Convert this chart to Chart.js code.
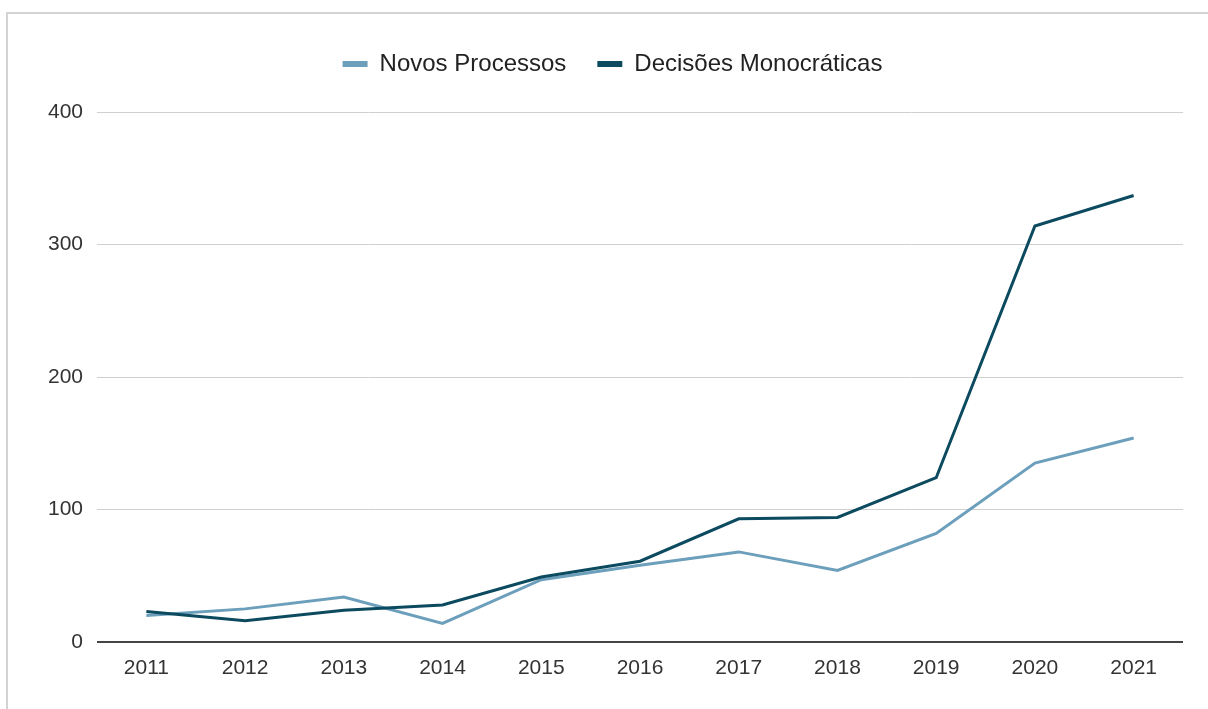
<!DOCTYPE html>
<html lang="pt">
<head>
    <meta charset="UTF-8">
    <title>Novos Processos x Decisões Monocráticas</title>
    <script src="https://cdn.jsdelivr.net/npm/chart.js"></script>
    <style>
        body { margin: 0; background: #fff; overflow: hidden; }
        #frame {
            position: absolute; left: 6px; top: 12px;
            width: 1210px; height: 710px;
            border-top: 2px solid #d3d3d3; border-left: 2px solid #d3d3d3;
        }
        #wrap { position: absolute; left: 0; top: 0; width: 1200px; height: 695px; }
    </style>
</head>
<body>
<div id="frame"><div id="wrap"><canvas id="chart"></canvas></div></div>

<script>
// values
const years = ['2011', '2012', '2013', '2014', '2015', '2016', '2017', '2018', '2019', '2020', '2021'];
const novosProcessos = [20, 25, 34, 14, 47, 58, 68, 54, 82, 135, 154];
const decisoesMonocraticas = [23, 16, 24, 28, 49, 61, 93, 94, 124, 314, 337];
const yTicks = [0, 100, 200, 300, 400];

const lightBlue = '#6c9fbb';
const darkBlue = '#0c4a5f';

// legend takes a fixed block of height so the plot starts where it should,
// and sits a little right of the plot centre like in the original
const legendPlace = {
    id: 'legendPlace',
    beforeInit(chart) {
        const fit = chart.legend.fit;
        chart.legend.fit = function () {
            fit.call(this);
            this.height = 91;
        };
    },
    afterLayout(chart) {
        chart.legend.left += 34;
    }
};

const ctx = document.getElementById('chart').getContext('2d');
new Chart(ctx, {
    type: 'line',
    data: {
        labels: years,
        datasets: [
            {
                label: 'Novos Processos',
                data: novosProcessos,
                borderColor: lightBlue,
                backgroundColor: lightBlue,
                borderWidth: 3,
                pointRadius: 0,
                tension: 0,
                order: 1
            },
            {
                label: 'Decisões Monocráticas',
                data: decisoesMonocraticas,
                borderColor: darkBlue,
                backgroundColor: darkBlue,
                borderWidth: 3,
                pointRadius: 0,
                tension: 0,
                order: 0
            }
        ]
    },
    options: {
        responsive: true,
        maintainAspectRatio: false,
        animation: false,
        layout: { padding: { top: 7, right: 25, left: 0, bottom: 0 } },
        plugins: {
            tooltip: { enabled: false },
            legend: {
                position: 'top',
                labels: {
                    boxWidth: 25,
                    boxHeight: 6,
                    padding: 31,
                    color: '#222',
                    font: { family: '"Liberation Sans", Arial, sans-serif', size: 24 },
                    sort: (a, b) => a.datasetIndex - b.datasetIndex,
                    generateLabels(chart) {
                        return Chart.defaults.plugins.legend.labels.generateLabels(chart)
                            .map(l => Object.assign(l, { lineWidth: 0 }));
                    }
                }
            }
        },
        scales: {
            x: {
                offset: true,
                grid: { display: false, drawTicks: false },
                border: { display: false },
                ticks: {
                    color: '#333',
                    padding: 14,
                    maxRotation: 0,
                    font: { family: '"Liberation Sans", Arial, sans-serif', size: 21 }
                },
                afterFit(scale) { scale.height = 67; }
            },
            y: {
                min: 0,
                max: 400,
                afterBuildTicks(scale) { scale.ticks = yTicks.map(v => ({ value: v })); },
                grid: {
                    drawTicks: false,
                    color: c => c.tick && c.tick.value === 0 ? '#444' : '#d0d0d0',
                    lineWidth: c => c.tick && c.tick.value === 0 ? 2 : 1
                },
                border: { display: false },
                ticks: {
                    color: '#333',
                    padding: 14,
                    font: { family: '"Liberation Sans", Arial, sans-serif', size: 21 }
                },
                afterFit(scale) { scale.width = 89; }
            }
        }
    },
    plugins: [legendPlace]
});
</script>

</body>
</html>
